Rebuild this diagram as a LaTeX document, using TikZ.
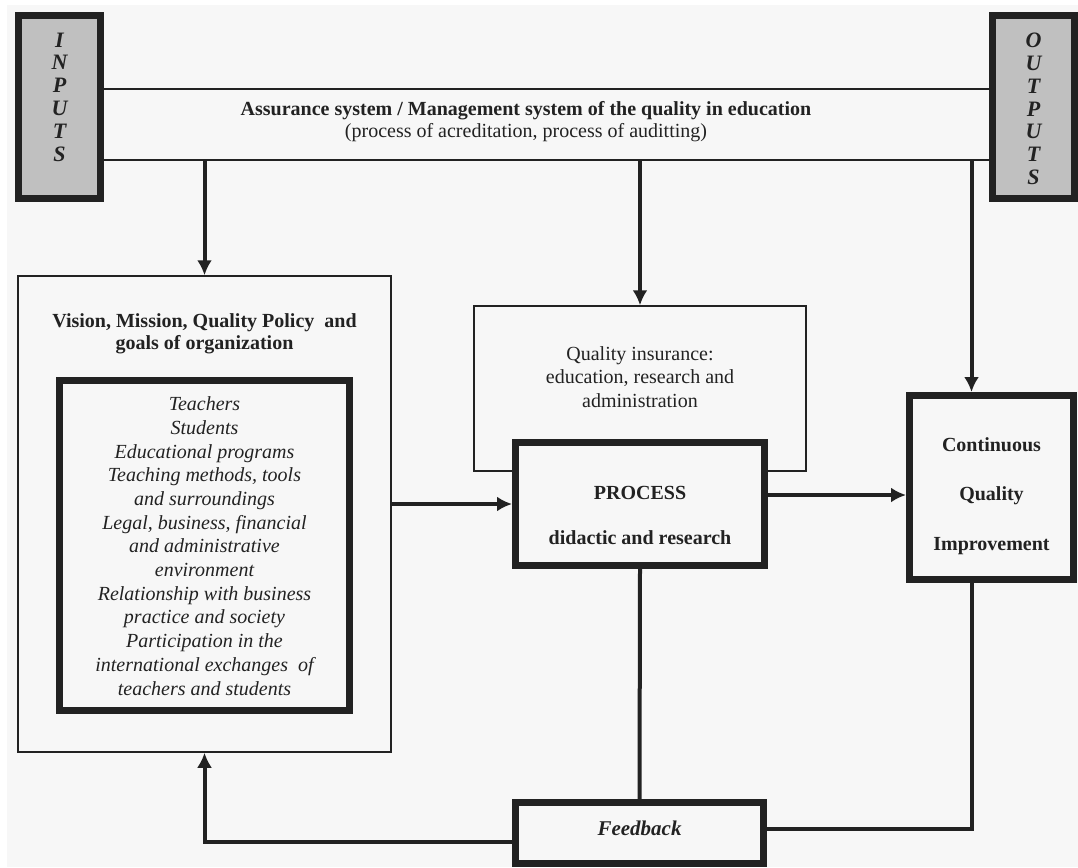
\documentclass[tikz,border=0pt]{standalone}
\usepackage{fontspec}
\setmainfont{Liberation Serif}
\usetikzlibrary{arrows.meta}
\definecolor{ink}{HTML}{222222}
\definecolor{paper}{HTML}{F7F7F7}
\definecolor{boxgray}{HTML}{C0C0C0}

\begin{document}
\begin{tikzpicture}[x=1pt, y=-1pt, draw=ink, text=ink,
    thinbox/.style={draw=ink, line width=1.5pt, fill=paper, inner sep=0pt},
    thickbox/.style={draw=ink, line width=7pt, fill=paper, inner sep=0pt},
    arr/.style={draw=ink, line width=4pt, -{Latex[length=15pt,width=15pt]}},
    con/.style={draw=ink, line width=4pt}]
	\useasboundingbox (0,0) rectangle (1078,867);
	\fill[white] (0,0) rectangle (1078,867);
	\fill[paper] (7,5) rectangle (1078,867);
	% inputs, outputs and the quality band
	\node[thickbox, fill=boxgray, minimum width=82pt, minimum height=183pt] (inputs) at (59.5,107) {};
	\node[font=\fontsize{22}{22.8}\selectfont\bfseries\itshape, align=center] at (59.5,97) {I\\N\\P\\U\\T\\S};
	\node[thickbox, fill=boxgray, minimum width=82pt, minimum height=183pt] (outputs) at (1033.5,107) {};
	\node[font=\fontsize{22}{22.8}\selectfont\bfseries\itshape, align=center] at (1033.5,109) {O\\U\\T\\P\\U\\T\\S};
	\node[minimum width=885pt, minimum height=71pt, inner sep=0pt] (band) at (546.5,124.5) {};
	\draw[line width=1.5pt] (band.north west) -- (band.north east);
	\draw[line width=1.5pt] (band.south west) -- (band.south east);
	\node[font=\fontsize{20}{22}\selectfont, align=center] (bandtext) at (526,122)
	  {\textbf{Assurance system / Management system of the quality in education}\\(process of acreditation, process of auditting)};
	% left column
	\node[thinbox, minimum width=373pt, minimum height=476pt] (vision) at (204.5,514) {};
	\node[font=\fontsize{20}{22}\selectfont\bfseries, align=center] (visiontext) at (204.5,334)
	  {Vision, Mission, Quality Policy \ and\\goals of organization};
	\node[thickbox, minimum width=290pt, minimum height=330pt] (factors) at (204.5,545.5) {};
	\node[font=\fontsize{20}{23.7}\selectfont\itshape, align=center] (factortext) at (204.5,546)
	  {Teachers\\Students\\Educational programs\\Teaching methods, tools\\and surroundings\\Legal, business, financial\\and administrative\\environment\\Relationship with business\\practice and society\\Participation in the\\international exchanges \ of\\teachers and students};
	% middle column
	\node[thinbox, minimum width=332pt, minimum height=165pt] (insurance) at (640,388.5) {};
	\node[font=\fontsize{20}{23.5}\selectfont, align=center] (insurancetext) at (640,377)
	  {Quality insurance:\\education, research and\\administration};
	\node[thickbox, minimum width=249pt, minimum height=123pt] (process) at (640,504) {};
	\node[font=\fontsize{20}{45}\selectfont\bfseries, align=center] (processtext) at (640,515)
	  {PROCESS\\didactic and research};
	\node[thickbox, minimum width=248pt, minimum height=61pt] (feedback) at (639.5,833) {};
	\node[font=\fontsize{21}{23}\selectfont\bfseries\itshape] (feedbacktext) at (639.5,828) {Feedback};
	% right column
	\node[thickbox, minimum width=164pt, minimum height=184pt] (cqi) at (991.5,487.5) {};
	\node[font=\fontsize{20}{49.5}\selectfont\bfseries, align=center] (cqitext) at (991.5,496)
	  {Continuous\\Quality\\Improvement};
	\coordinate (cqin) at ([xshift=-20pt]cqi.north);
	\coordinate (cqout) at ([xshift=-20pt]cqi.south);
	\coordinate (procout) at ([yshift=9pt]process.east);
	\coordinate (fbleft) at ([yshift=-9pt]feedback.west);
	\coordinate (fbright) at ([yshift=4pt]feedback.east);
	% connectors
	\draw[arr] (band.south -| vision.north) -- (vision.north);
	\draw[arr] (band.south -| insurance.north) -- (insurance.north);
	\draw[arr] (band.south -| cqin) -- (cqin);
	\draw[arr] (vision.east |- process.west) -- (process.west);
	\draw[arr] (procout) -- (procout -| cqi.west);
	\draw[con] (process.south) -- (feedback.north);
	\draw[arr] (fbleft) -| (vision.south);
	\draw[con] (cqout) |- (fbright);
\end{tikzpicture}
\end{document}
